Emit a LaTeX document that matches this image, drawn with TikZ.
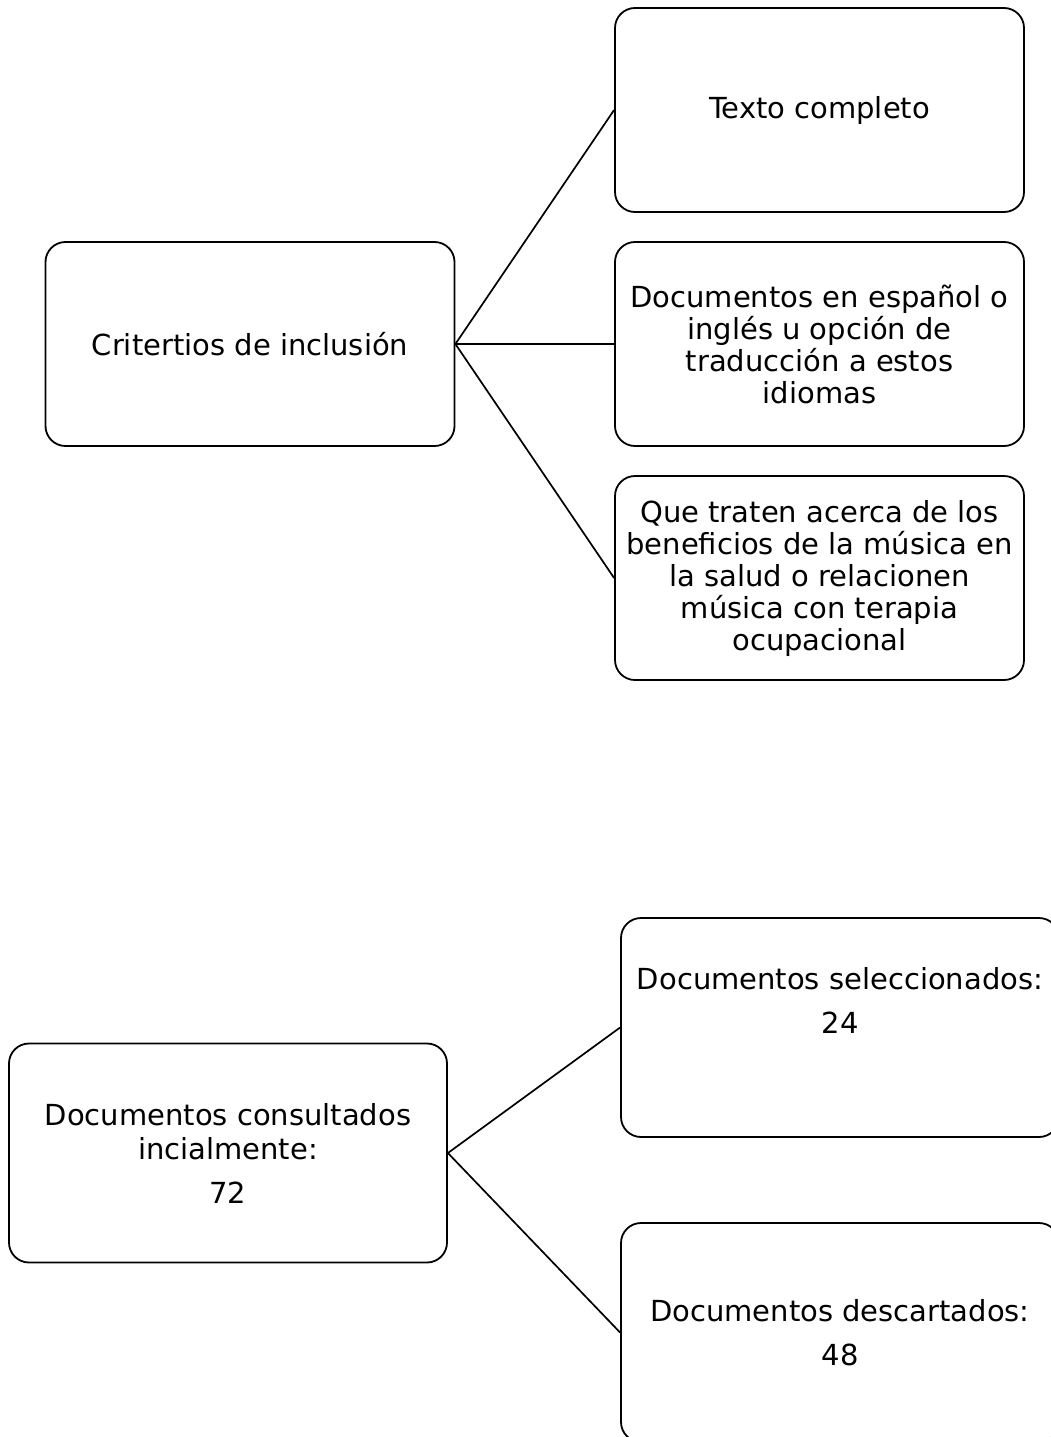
\documentclass[tikz,border=0pt]{standalone}
\usepackage{fontspec}
\setmainfont{DejaVu Sans}
\begin{document}
\begin{tikzpicture}[x=1pt,y=-1pt,
  box/.style={draw=black, line width=1.8pt, rounded corners=20pt, fill=white,
    align=center, inner sep=0pt, font=\fontsize{29}{32}\selectfont},
  smallbox/.style={box, minimum width=409pt, minimum height=204pt},
  bigbox/.style={box, minimum width=438pt, minimum height=219pt},
  link/.style={draw=black, line width=1.7pt}]
\useasboundingbox (0,0) rectangle (1051,1437);
\clip (0,0) rectangle (1051,1437);

\node[smallbox] (crit) at (250,344) {Critertios de inclusión};
\node[smallbox] (t1) at (819.5,110) {Texto completo};
\node[smallbox] (t2) at (819.5,344) {Documentos en español o\\inglés u opción de\\traducción a estos\\idiomas};
\node[smallbox] (t3) at (819.5,578) {Que traten acerca de los\\beneficios de la música en\\la salud o relacionen\\música con terapia\\ocupacional};

\draw[link] (crit.east) -- (t1.west);
\draw[link] (crit.east) -- (t2.west);
\draw[link] (crit.east) -- (t3.west);

\node[bigbox] (cons) at (228,1153) {Documentos consultados\\[2pt]incialmente:\\[12pt]72};
\node[bigbox] (sel) at (840,1027.5) {Documentos seleccionados:\\[12pt]24\\[12pt]\strut};
\node[bigbox] (desc) at (840,1332.5) {Documentos descartados:\\[12pt]48};

\draw[link] (cons.east) -- (sel.west);
\draw[link] (cons.east) -- (desc.west);
\end{tikzpicture}
\end{document}
